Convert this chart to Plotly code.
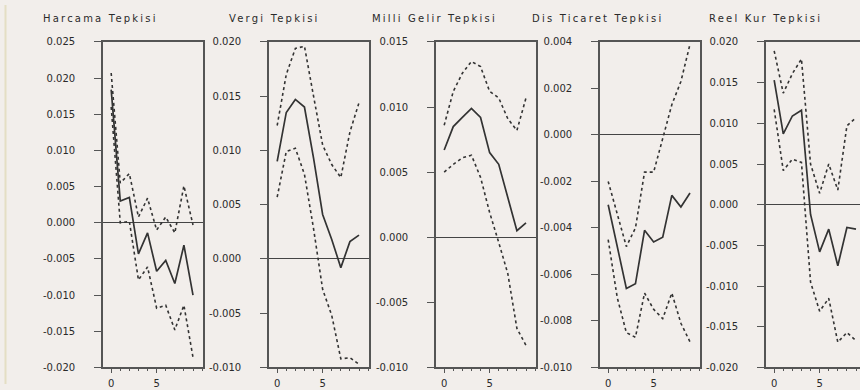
import plotly.graph_objects as go

# ---------------- data ----------------
periods = list(range(10))

titles = ["Harcama Tepkisi", "Vergi Tepkisi", "Milli Gelir Tepkisi",
          "Dis Ticaret Tepkisi", "Reel Kur Tepkisi"]

harcama = [0.0184, 0.0030, 0.0035, -0.0043, -0.0014, -0.0067, -0.0052, -0.0084, -0.0031, -0.0100]
harcama_upper = [0.0207, 0.0055, 0.0068, 0.0008, 0.0034, -0.0010, 0.0008, -0.0014, 0.0051, -0.0003]
harcama_lower = [0.0160, 0.0000, 0.0002, -0.0079, -0.0061, -0.0118, -0.0114, -0.0148, -0.0114, -0.0186]

vergi = [0.0090, 0.0135, 0.0147, 0.0140, 0.0093, 0.0041, 0.0018, -0.0008, 0.0016, 0.0022]
vergi_upper = [0.0123, 0.0170, 0.0194, 0.0196, 0.0150, 0.0105, 0.0087, 0.0075, 0.0117, 0.0144]
vergi_lower = [0.0057, 0.0099, 0.0102, 0.0078, 0.0028, -0.0028, -0.0052, -0.0092, -0.0091, -0.0097]

milli_gelir = [0.0067, 0.0085, 0.0092, 0.0099, 0.0092, 0.0065, 0.0056, 0.0031, 0.0005, 0.0011]
milli_gelir_upper = [0.0086, 0.0112, 0.0126, 0.0135, 0.0131, 0.0112, 0.0107, 0.0091, 0.0082, 0.0107]
milli_gelir_lower = [0.0050, 0.0056, 0.0061, 0.0063, 0.0046, 0.0019, -0.0004, -0.0028, -0.0070, -0.0083]

dis_ticaret = [-0.0030, -0.0048, -0.0066, -0.0064, -0.0041, -0.0046, -0.0044, -0.0026, -0.0031, -0.0025]
dis_ticaret_upper = [-0.0020, -0.0034, -0.0048, -0.0040, -0.0016, -0.0016, -0.0002, 0.0013, 0.0023, 0.0039]
dis_ticaret_lower = [-0.0045, -0.0070, -0.0085, -0.0087, -0.0068, -0.0075, -0.0079, -0.0068, -0.0081, -0.0089]

reel_kur = [0.0153, 0.0087, 0.0109, 0.0116, -0.0012, -0.0058, -0.0030, -0.0075, -0.0028, -0.0030]
reel_kur_upper = [0.0189, 0.0137, 0.0161, 0.0179, 0.0050, 0.0014, 0.0050, 0.0018, 0.0097, 0.0107]
reel_kur_lower = [0.0117, 0.0042, 0.0056, 0.0052, -0.0095, -0.0131, -0.0115, -0.0169, -0.0157, -0.0167]

harcama_ticks = [-0.020, -0.015, -0.010, -0.005, 0.000, 0.005, 0.010, 0.015, 0.020, 0.025]
vergi_ticks = [-0.010, -0.005, 0.000, 0.005, 0.010, 0.015, 0.020]
milli_gelir_ticks = [-0.010, -0.005, 0.000, 0.005, 0.010, 0.015]
dis_ticaret_ticks = [-0.010, -0.008, -0.006, -0.004, -0.002, 0.000, 0.002, 0.004]
reel_kur_ticks = [-0.020, -0.015, -0.010, -0.005, 0.000, 0.005, 0.010, 0.015, 0.020]

x_tick_vals = [0, 5]
x_tick_text = ["0", "5"]

# ---------------- layout / styling ----------------
W, H = 860, 390
BG = "#f2eeeb"
INK = "#2a2a2a"
LINE = "#555555"
FONT = "DejaVu Sans"

panels = [
    (harcama, harcama_upper, harcama_lower, harcama_ticks),
    (vergi, vergi_upper, vergi_lower, vergi_ticks),
    (milli_gelir, milli_gelir_upper, milli_gelir_lower, milli_gelir_ticks),
    (dis_ticaret, dis_ticaret_upper, dis_ticaret_lower, dis_ticaret_ticks),
    (reel_kur, reel_kur_upper, reel_kur_lower, reel_kur_ticks),
]
box_left = [103, 269, 436, 600, 766]
box_w = 100
title_x = [41, 227, 370, 530, 707]
top_px, bottom_px = 38, 373
px_per_unit = box_w / 11.0

fig = go.Figure()
layout = dict(
    width=W, height=H,
    margin=dict(l=0, r=0, t=0, b=0),
    paper_bgcolor=BG, plot_bgcolor=BG,
    showlegend=False,
    font=dict(family=FONT, size=10, color=INK),
)

ydom = [1 - bottom_px / H, 1 - top_px / H]
annotations = []

for i, (mid, up, lo, ticks) in enumerate(panels):
    n = "" if i == 0 else str(i + 1)
    xa, ya = "x" + n, "y" + n
    left = box_left[i]
    right = min(left + box_w, W)
    x0 = -0.9
    x1 = x0 + (right - left) / px_per_unit
    for series, dash, width in ((up, "3px,3px", 1.6), (lo, "3px,3px", 1.6), (mid, "solid", 1.7)):
        fig.add_trace(go.Scatter(
            x=periods, y=series, mode="lines", xaxis=xa, yaxis=ya,
            line=dict(color="#333333", width=width, dash=dash),
            hoverinfo="skip",
        ))
    layout["xaxis" + n] = dict(
        domain=[left / W, right / W], range=[x0, x1], anchor=ya,
        showgrid=False, zeroline=False,
        showline=True, linecolor=LINE, linewidth=1.6, mirror=True,
        tickvals=x_tick_vals, ticktext=x_tick_text,
        ticks="outside", ticklen=4, tickwidth=1.4, tickcolor=LINE,
        ticklabelstandoff=2,
        minor=dict(dtick=1, tick0=0, ticks="outside", ticklen=2, tickwidth=1.4, tickcolor=LINE),
        tickfont=dict(family=FONT, size=10, color=INK),
        fixedrange=True,
    )
    layout["yaxis" + n] = dict(
        domain=ydom, range=[ticks[0], ticks[-1]], anchor=xa,
        showgrid=False,
        zeroline=True, zerolinecolor="#444444", zerolinewidth=1.2,
        showline=True, linecolor=LINE, linewidth=1.6, mirror=(i < 4),
        tickvals=ticks, ticktext=[f"{v:.3f}" for v in ticks],
        ticks="outside", ticklen=7, tickwidth=1.4, tickcolor=LINE,
        ticklabelstandoff=17,
        tickfont=dict(family=FONT, size=10, color=INK),
        fixedrange=True,
    )
    annotations.append(dict(
        text='<span style="letter-spacing:2.2px">' + titles[i] + "</span>",
        x=title_x[i] / W, y=1 - 14 / H, xref="paper", yref="paper",
        xanchor="left", yanchor="middle", showarrow=False,
        font=dict(family=FONT, size=10, color=INK),
    ))

layout["annotations"] = annotations
layout["shapes"] = [dict(type="line", xref="paper", yref="paper",
                         x0=5.5 / W, x1=5.5 / W, y0=0, y1=1,
                         line=dict(color="#e4dec4", width=2))]
fig.update_layout(**layout)
fig.write_html(
    "out.html",
    config={"displayModeBar": False},
    post_script="document.body.style.margin='0';document.body.style.background='" + BG + "';",
)
